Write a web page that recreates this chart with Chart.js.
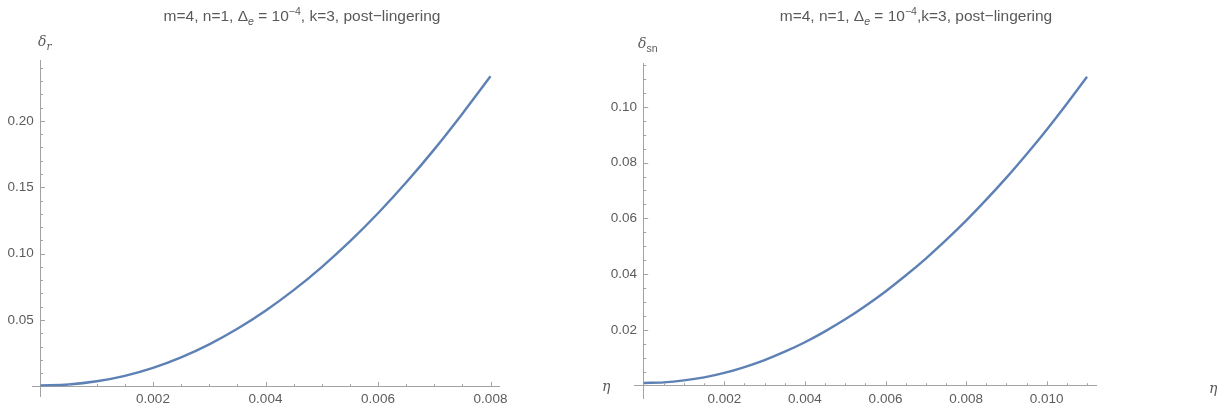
<!DOCTYPE html>
<html>
<head>
<meta charset="utf-8">
<script src="https://cdn.jsdelivr.net/npm/chart.js@4/dist/chart.umd.min.js"></script>
<style>
  html, body { margin: 0; padding: 0; background: #fff; }
  body { width: 1229px; height: 411px; position: relative; overflow: hidden;
         font-family: "Liberation Sans", Arial, sans-serif; color: #5f5f5f; }
  .panel { position: absolute; top: 0; height: 411px; }
  .title { position: absolute; top: 7px; font-size: 15.5px; white-space: nowrap;
           transform: translateX(-50%); color: #595959; }
  .title sub, .title sup { font-size: 10.5px; line-height: 0; }
  .lbl { position: absolute; font-size: 14px; white-space: nowrap; color: #5a5a5a; }
  .lbl i { font-family: "DejaVu Serif", serif; }
  .lbl sub { font-size: 10.5px; line-height: 0; }
</style>
</head>
<body>
<div class="panel" style="left:0;width:600px"><canvas id="chartR"></canvas></div>
<div class="panel" style="left:600px;width:629px"><canvas id="chartSn"></canvas></div>

<div class="title" style="left:302px">m=4, n=1, &Delta;<sub><i>e</i></sub> = 10<sup>&minus;4</sup>, k=3, post&minus;lingering</div>
<div class="title" style="left:916px">m=4, n=1, &Delta;<sub><i>e</i></sub> = 10<sup>&minus;4</sup>,k=3, post&minus;lingering</div>
<div class="lbl" style="left:38px;top:33px"><i>δ</i><sub><i>r</i></sub></div>
<div class="lbl" style="left:638px;top:35px"><i>δ</i><sub>sn</sub></div>
<div class="lbl" style="left:602px;top:378px"><i>η</i></div>
<div class="lbl" style="left:1209px;top:380px"><i>η</i></div>

<script>
// left panel: delta_r vs eta
const etaR = [0, 0.0005, 0.001, 0.0015, 0.002, 0.0025, 0.003, 0.0035, 0.004,
              0.0045, 0.005, 0.0055, 0.006, 0.0065, 0.007, 0.0075, 0.008];
const deltaR = [0.0008, 0.0015, 0.0039, 0.0080, 0.0140, 0.0219, 0.0317, 0.0434, 0.0570,
                0.0725, 0.0899, 0.1092, 0.1304, 0.1535, 0.1785, 0.2054, 0.2335];
const xMajorR = [0.002, 0.004, 0.006, 0.008];
const yMajorR = [0.05, 0.10, 0.15, 0.20];

// right panel: delta_sn vs eta
const etaSn = [0, 0.0005, 0.001, 0.0015, 0.002, 0.0025, 0.003, 0.0035, 0.004, 0.0045, 0.005,
               0.0055, 0.006, 0.0065, 0.007, 0.0075, 0.008, 0.0085, 0.009, 0.0095, 0.010,
               0.0105, 0.011];
const deltaSn = [0.0010, 0.0012, 0.0019, 0.0030, 0.0046, 0.0067, 0.0092, 0.0122, 0.0156, 0.0195, 0.0238,
                 0.0286, 0.0338, 0.0395, 0.0456, 0.0522, 0.0592, 0.0667, 0.0746, 0.0830, 0.0918,
                 0.1011, 0.1108];
const xMajorSn = [0.002, 0.004, 0.006, 0.008, 0.010];
const yMajorSn = [0.02, 0.04, 0.06, 0.08, 0.10];

const AXIS = '#a3a3a3';
const TEXT = '#5c5c5c';
const LINE = '#5e81b5';
const FONT = '"Liberation Sans", Arial, sans-serif';

// Mathematica-like ticks pointing into the plot, major + minor
const innerTicks = {
  id: 'innerTicks',
  afterDraw(chart, args, opts) {
    const ctx = chart.ctx;
    const xs = chart.scales.x, ys = chart.scales.y;
    const x0 = xs.getPixelForValue(0), y0 = ys.getPixelForValue(0);
    ctx.save();
    ctx.strokeStyle = AXIS;
    ctx.lineWidth = 1;
    ctx.beginPath();
    const nx = Math.round(xs.max / opts.xStep);
    for (let i = 1; i <= nx; i++) {
      const v = i * opts.xStep;
      if (v > xs.max) break;
      const major = i % opts.xEvery === 0;
      const px = Math.round(xs.getPixelForValue(v)) + 0.5;
      ctx.moveTo(px, y0);
      ctx.lineTo(px, y0 - (major ? 4.5 : 2.5));
    }
    const ny = Math.round(ys.max / opts.yStep);
    for (let i = 1; i <= ny; i++) {
      const v = i * opts.yStep;
      if (v > ys.max) break;
      const major = i % opts.yEvery === 0;
      const py = Math.round(ys.getPixelForValue(v)) + 0.5;
      ctx.moveTo(x0, py);
      ctx.lineTo(x0 + (major ? 4.5 : 2.5), py);
    }
    ctx.stroke();
    ctx.restore();
  }
};

function makeChart(id, xs, ys, xMajor, yMajor, lim, pad, tickOpts, xDigits, yDigits) {
  const pts = xs.map((x, i) => ({ x: x, y: ys[i] }));
  return new Chart(document.getElementById(id), {
    type: 'scatter',
    data: {
      datasets: [{
        data: pts,
        showLine: true,
        borderColor: LINE,
        borderWidth: 2.4,
        pointRadius: 0,
        cubicInterpolationMode: 'monotone'
      }]
    },
    options: {
      responsive: true,
      maintainAspectRatio: false,
      animation: false,
      layout: { padding: pad },
      plugins: { legend: { display: false }, tooltip: { enabled: false }, innerTicks: tickOpts },
      scales: {
        x: {
          type: 'linear',
          min: lim.xmin, max: lim.xmax,
          position: { y: 0 },
          afterBuildTicks: (s) => { s.ticks = xMajor.map(v => ({ value: v })); },
          ticks: {
            color: TEXT, padding: 5, maxRotation: 0, autoSkip: false,
            font: { family: FONT, size: 13.5 },
            callback: (v) => Number(v).toFixed(xDigits)
          },
          grid: { display: false, drawTicks: false },
          border: { display: true, color: AXIS, width: 1 }
        },
        y: {
          type: 'linear',
          min: lim.ymin, max: lim.ymax,
          position: { x: 0 },
          afterBuildTicks: (s) => { s.ticks = yMajor.map(v => ({ value: v })); },
          ticks: {
            color: TEXT, autoSkip: false,
            font: { family: FONT, size: 13.5 },
            // labels of an axis placed at a value sit flush on it, so keep a gap
            callback: (v) => Number(v).toFixed(yDigits) + '\u2002'
          },
          grid: { display: false, drawTicks: false },
          border: { display: true, color: AXIS, width: 1 }
        }
      }
    },
    plugins: [innerTicks]
  });
}

makeChart('chartR', etaR, deltaR, xMajorR, yMajorR,
  { xmin: -0.000151, xmax: 0.008151, ymin: -0.0072, ymax: 0.2458 },
  { left: 32, right: 101, top: 60, bottom: 15 },
  { xStep: 0.0005, xEvery: 4, yStep: 0.01, yEvery: 5 }, 3, 2);

makeChart('chartSn', etaSn, deltaSn, xMajorSn, yMajorSn,
  { xmin: -0.000241, xmax: 0.011223, ymin: -0.0044, ymax: 0.1157 },
  { left: 34, right: 133, top: 63, bottom: 13 },
  { xStep: 0.0005, xEvery: 4, yStep: 0.005, yEvery: 4 }, 3, 2);
</script>
</body>
</html>
